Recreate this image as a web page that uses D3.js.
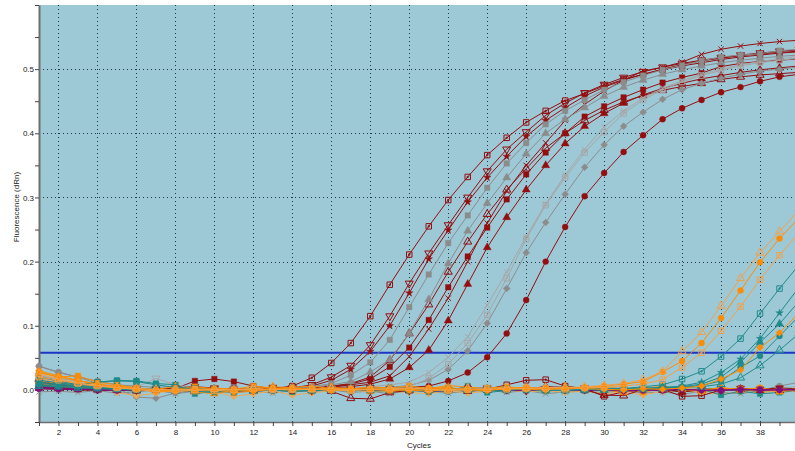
<!DOCTYPE html>
<html>
<head>
<meta charset="utf-8">
<script src="https://cdn.jsdelivr.net/npm/d3@7"></script>
<style>
  body { margin: 0; background: #fff; }
  svg { display: block; }
  text { font-family: "Liberation Sans", Arial, sans-serif; }
</style>
</head>
<body>
<svg id="chart" width="795" height="451"></svg>
<script>
// ---- data (fluorescence readings in milli-dRn, one value per cycle) ----
const cycles = [1,2,3,4,5,6,7,8,9,10,11,12,13,14,15,16,17,18,19,20,21,22,23,24,25,26,27,28,29,30,31,32,33,34,35,36,37,38,39,40];
const yTickValues = [0, 0.1, 0.2, 0.3, 0.4, 0.5];
const xTickLabels = [2,4,6,8,10,12,14,16,18,20,22,24,26,28,30,32,34,36,38];
const thresholdDRn = 0.058;

// early-amplifying wells
const wellA1 = [14,9,6,4,2,1,0,1,2,1,1,0,2,6,19,42,73,115,164,211,255,296,332,366,393,417,435,451,462,474,484,492,499,505,510,515,519,522,525,527];
const wellA2 = [10,7,5,3,2,2,1,0,1,2,1,0,1,3,8,20,38,70,115,166,213,257,300,341,375,402,428,447,463,476,487,496,503,509,514,518,522,525,528,530];
const wellA3 = [8,6,4,3,1,0,1,2,0,1,2,1,0,2,6,15,32,60,100,151,204,249,293,331,364,395,420,440,458,472,483,492,500,507,513,517,521,524,526,528];
const wellA4 = [22,15,10,6,4,2,1,0,2,1,0,1,2,3,5,10,23,43,78,129,180,229,272,315,353,385,414,435,452,468,480,490,499,506,513,519,522,524,529,531];
const wellA5 = [18,12,8,5,3,1,0,1,2,0,1,2,1,2,4,8,13,28,47,88,141,197,248,291,331,368,400,422,440,458,472,483,492,499,505,510,514,517,520,522];
const wellA6 = [5,3,2,1,0,-1,1,0,-2,1,0,-1,2,1,3,6,10,20,46,88,133,184,231,274,312,345,377,400,420,436,449,459,467,473,478,484,488,491,493,495];
const wellA7 = [6,4,3,2,1,0,-1,1,0,2,1,0,1,0,2,4,8,12,22,52,95,143,200,260,310,350,385,420,445,466,483,497,503,511,523,531,536,540,543,545];
const wellA8 = [4,3,2,1,0,1,0,2,14,17,13,6,2,1,2,5,9,17,36,66,109,160,208,253,297,336,370,400,426,442,456,468,479,487,494,504,509,512,514,516];
const wellA9 = [3,2,1,0,-1,0,1,-1,0,1,0,-1,0,1,2,3,5,9,17,35,62,108,165,222,269,312,350,384,411,431,447,460,470,478,485,490,495,499,502,505];
const wellA10 = [16,11,7,5,3,1,0,-1,1,0,-2,0,1,0,1,2,3,5,8,12,27,51,83,132,184,239,290,335,375,410,435,455,470,482,492,500,507,512,516,520];
const wellA11 = [20,14,9,6,4,2,1,0,1,-1,0,1,0,-1,1,0,2,1,3,5,18,40,73,117,174,235,288,331,370,402,431,452,468,480,490,498,505,510,514,517];
const wellA12 = [37,27,20,10,2,-11,-13,-5,0,2,1,0,-1,1,0,1,2,2,4,7,15,32,61,104,158,214,261,305,347,382,411,433,453,468,478,486,492,497,500,503];
const wellA13 = [2,1,0,-1,0,1,0,-1,0,1,0,1,0,-1,0,1,0,2,3,4,6,14,27,51,88,140,200,254,302,338,371,397,422,439,452,464,472,481,488,492];

// late-amplifying wells
const wellB1 = [25,17,11,7,4,2,1,0,-1,1,0,2,1,0,1,2,0,1,2,3,1,0,2,1,3,2,4,3,5,7,10,16,29,60,90,131,174,214,247,280];
const wellB2 = [28,20,14,9,5,2,0,-2,-1,1,0,-1,2,3,1,0,2,1,-1,0,3,2,1,0,2,4,3,2,4,6,9,13,28,45,73,112,155,199,236,268];
const wellB3 = [20,15,10,6,3,1,-2,0,1,-1,0,1,0,2,1,0,-1,1,0,2,1,-1,0,2,1,3,2,1,3,4,6,9,16,35,58,92,130,172,210,245];
const wellB4 = [30,22,15,9,4,1,-3,0,2,0,-4,-2,1,0,2,-1,0,2,1,0,-2,1,0,-1,2,1,0,3,2,1,0,2,1,3,6,17,31,66,89,120];
const wellC1 = [15,11,8,12,14,13,8,4,2,0,-1,1,0,2,1,0,-1,2,1,0,1,-1,0,1,2,0,1,2,1,3,2,5,8,17,29,52,80,119,158,195];
const wellC2 = [12,9,7,5,3,2,1,0,-2,-4,-1,0,1,0,-1,1,0,2,0,1,-1,0,1,2,0,1,0,2,1,0,2,3,4,6,12,27,48,80,120,160];
const wellC3 = [10,8,6,4,2,1,0,-1,0,1,0,-2,0,1,0,-1,1,0,2,1,0,1,-1,0,1,2,0,1,0,2,1,2,3,5,9,20,43,74,103,138];
const wellC4 = [8,6,5,3,1,0,-1,0,-2,-1,0,1,-1,0,1,0,-1,1,0,-1,0,2,1,-1,0,1,-1,0,1,0,2,1,3,4,7,14,35,53,84,115];
const wellC5 = [6,5,3,2,1,0,1,-1,0,1,-1,0,1,0,-1,0,1,0,-1,1,0,-1,0,1,0,1,0,-1,1,0,1,2,2,4,5,9,19,38,62,88];

// non-amplifying wells
const wellN1 = [2,1,1,0,-1,0,0,-1,0,1,0,-1,0,1,0,-1,0,1,1,0,-1,0,1,0,0,-1,0,1,0,0,-1,-1,0,1,0,-1,0,1,0,0];
const wellN2 = [4,3,2,1,0,0,-1,0,1,0,-1,-2,0,1,0,-1,1,0,-1,0,-2,-1,0,1,-1,0,2,0,-1,0,-2,0,-1,1,-1,0,1,-1,0,1];
const wellN3 = [12,8,5,3,2,0,1,3,5,3,-2,0,4,2,-1,0,1,3,2,-1,1,0,2,3,1,-1,2,1,3,0,-1,0,2,-3,1,0,2,1,3,2];
const wellN4 = [6,4,2,1,0,-1,1,0,-2,1,0,-1,0,2,1,-2,-13,-14,-4,-1,0,1,-2,0,1,2,5,4,0,-8,-9,1,0,-3,0,2,1,0,-1,1];
const wellN5 = [9,6,4,2,1,0,-1,1,0,-1,2,0,1,-1,0,2,1,0,-1,1,2,0,3,1,8,15,16,6,2,-10,-3,0,1,-10,-9,0,2,1,0,2];
const wellN6 = [27,20,22,12,8,3,-2,2,5,2,1,6,3,0,-1,2,1,0,3,6,2,4,0,3,5,2,-1,1,0,4,2,-3,1,2,-2,0,1,3,-1,2];
const wellN7 = [18,12,8,5,-4,-9,-5,0,-2,-3,-10,-6,-2,-8,-5,-1,0,-3,-2,-4,-6,-1,-5,-2,0,-3,-1,-4,-2,-6,-3,-8,-2,-1,-4,-7,-2,-5,-1,-3];
const wellN8 = [10,6,3,5,4,2,-3,-1,0,3,1,2,0,4,6,2,1,5,3,0,2,7,4,1,3,2,-1,0,2,-2,1,0,-1,2,0,3,1,-2,0,1];
const wellN9 = [20,14,8,12,15,14,10,8,-6,-2,-4,1,0,-3,-1,0,2,-2,-1,0,-3,-2,6,-4,-1,0,-2,1,-1,0,2,-1,0,-2,1,-8,-2,-6,-4,0];
const wellN10 = [5,3,4,2,0,-2,1,-1,0,2,-1,0,1,-2,0,1,-1,0,2,0,-1,1,0,-2,1,0,2,-1,0,1,-1,2,0,-1,0,1,-2,0,1,0];
const wellN11 = [37,28,20,14,8,6,4,5,3,2,1,0,2,1,0,-1,1,0,-2,1,0,2,-1,0,1,-2,0,1,2,-1,0,1,-1,0,2,1,0,-1,6,12];
const wellN12 = [22,18,14,10,6,4,18,8,3,1,2,0,-1,1,0,2,-1,0,1,-2,0,1,-1,2,0,-1,1,0,2,-1,1,0,-2,1,0,-1,2,0,1,0];
const wellN13 = [14,10,7,4,6,3,1,5,-3,-6,-1,2,5,3,0,4,2,-2,1,3,0,-2,4,2,-1,3,1,5,2,0,-4,2,6,1,-2,4,0,2,-3,1];
const wellN14 = [-3,-2,-4,-1,-5,-3,0,-6,-2,-1,-4,-2,-5,-1,-3,0,-4,-2,-6,-1,-3,-5,-2,0,-4,-1,-6,-3,-2,-4,-1,-5,-3,-7,-2,-4,-6,-1,-3,-2];
const wellN15 = [8,5,3,1,2,-1,0,3,1,-2,2,1,-1,3,0,2,-2,1,4,2,-1,0,3,-2,1,2,0,-1,3,1,-2,0,2,-1,1,3,0,-2,1,0];

// ---- appearance of each well's trace ----
const RED = "#930e0e", GRAY = "#8c8c8c", LGRAY = "#a6a6a6", ORANGE = "#ff8c00",
      LORANGE = "#f2a04a", TEAL = "#1f8a8a", PURPLE = "#7f0f7f", GREEN = "#2e8b57", SANDY = "#eeaa55";

const traces = [
  // early wells
  { v: wellA13, color: RED,     shape: "circle",   open: false },
  { v: wellA9,  color: RED,     shape: "triUp",    open: false },
  { v: wellA8,  color: RED,     shape: "square",   open: false },
  { v: wellA6,  color: RED,     shape: "triUp",    open: true },
  { v: wellA7,  color: RED,     shape: "cross",    open: true },
  { v: wellA3,  color: RED,     shape: "star",     open: false },
  { v: wellA2,  color: RED,     shape: "triDown",  open: true },
  { v: wellA1,  color: RED,     shape: "squareDot",open: true },
  { v: wellA12, color: GRAY,    shape: "diamond",  open: false },
  { v: wellA11, color: LGRAY,   shape: "squareDot",open: true },
  { v: wellA10, color: LGRAY,   shape: "cross",    open: true },
  { v: wellA5,  color: GRAY,    shape: "triUp",    open: false },
  { v: wellA4,  color: GRAY,    shape: "square",   open: false },
  // baseline wells
  { v: wellN12, color: LGRAY,   shape: "triDown",  open: true },
  { v: wellN11, color: GRAY,    shape: "circle",   open: false },
  { v: wellN14, color: GRAY,    shape: "cross",    open: true },
  { v: wellN7,  color: SANDY,   shape: "diamond",  open: false },
  { v: wellN9,  color: TEAL,    shape: "square",   open: false },
  { v: wellN15, color: TEAL,    shape: "circle",   open: false },
  { v: wellN10, color: GREEN,   shape: "diamond",  open: false },
  { v: wellN3,  color: RED,     shape: "triDown",  open: false },
  { v: wellN4,  color: RED,     shape: "triUp",    open: true },
  { v: wellN5,  color: RED,     shape: "squareDot",open: true },
  { v: wellN6,  color: ORANGE,  shape: "square",   open: false },
  { v: wellN13, color: ORANGE,  shape: "triUp",    open: false },
  { v: wellN8,  color: ORANGE,  shape: "plus",     open: false },
  { v: wellN2,  color: PURPLE,  shape: "diamond",  open: false },
  { v: wellN1,  color: PURPLE,  shape: "circle",   open: false },
  // late wells
  { v: wellC5,  color: TEAL,    shape: "triUp",    open: true },
  { v: wellC4,  color: TEAL,    shape: "circle",   open: false },
  { v: wellC3,  color: TEAL,    shape: "triUp",    open: false },
  { v: wellC2,  color: TEAL,    shape: "star",     open: false },
  { v: wellC1,  color: TEAL,    shape: "squareDot",open: true },
  { v: wellB4,  color: ORANGE,  shape: "diamond",  open: false },
  { v: wellB3,  color: LORANGE, shape: "squareDot",open: true },
  { v: wellB2,  color: ORANGE,  shape: "circle",   open: false },
  { v: wellB1,  color: LORANGE, shape: "triUp",    open: true }
];

// ---- layout ----
const svg = d3.select("#chart");
const W = 795, H = 451;
const plotLeft = 39, plotTop = 5, plotBottom = 422, plotRight = 799;

const x = d3.scaleLinear().domain([1, 40]).range([plotLeft, plotRight]);
const y = d3.scaleLinear().domain([-0.05, 0.6]).range([plotBottom, plotTop]);
const toDRn = m => m / 1000;

svg.append("rect").attr("width", W).attr("height", H).attr("fill", "#fff");
svg.append("rect")
  .attr("x", plotLeft).attr("y", plotTop)
  .attr("width", W - plotLeft).attr("height", plotBottom - plotTop)
  .attr("fill", "#9dc9d7");

// dotted grid
const grid = svg.append("g").attr("stroke", "#24384a").attr("stroke-width", 1)
  .attr("stroke-dasharray", "1,3").attr("shape-rendering", "crispEdges");
grid.selectAll("line.v").data(xTickLabels.concat([40])).join("line")
  .attr("x1", d => Math.round(x(d)) + 0.5).attr("x2", d => Math.round(x(d)) + 0.5)
  .attr("y1", plotTop).attr("y2", plotBottom);
grid.selectAll("line.h").data(yTickValues).join("line")
  .attr("x1", plotLeft).attr("x2", W)
  .attr("y1", d => Math.round(y(d)) + 0.5).attr("y2", d => Math.round(y(d)) + 0.5);

// threshold
svg.append("line")
  .attr("x1", plotLeft).attr("x2", W)
  .attr("y1", y(thresholdDRn)).attr("y2", y(thresholdDRn))
  .attr("stroke", "#1b36c6").attr("stroke-width", 2);

// axes
const yMinor = [-0.05,0,0.05,0.1,0.15,0.2,0.25,0.3,0.35,0.4,0.45,0.5,0.55,0.6];
const yAxis = svg.append("g").attr("transform", `translate(${plotLeft},0)`)
  .call(d3.axisLeft(y).tickValues(yMinor).tickSize(4).tickSizeOuter(0)
    .tickFormat(d => yTickValues.some(t => Math.abs(t - d) < 1e-9) ? d3.format(".1f")(d) : ""));
yAxis.select(".domain").attr("stroke", "#6e6e6e").attr("stroke-width", 2);
yAxis.selectAll(".tick line").attr("stroke", "#444");
yAxis.selectAll(".tick text").attr("fill", "#222").attr("font-size", 8).attr("x", -5);

const xAxis = svg.append("g").attr("transform", `translate(0,${plotBottom})`)
  .call(d3.axisBottom(x).tickValues(cycles).tickSize(4).tickSizeOuter(0)
    .tickFormat(d => xTickLabels.includes(d) ? d : ""));
xAxis.select(".domain").attr("stroke", "#6e6e6e").attr("stroke-width", 1.5);
xAxis.selectAll(".tick line").attr("stroke", "#444");
xAxis.selectAll(".tick text").attr("fill", "#222").attr("font-size", 8);

svg.append("text").attr("x", (plotLeft + plotRight) / 2).attr("y", 448)
  .attr("text-anchor", "middle").attr("font-size", 8).attr("fill", "#222").text("Cycles");
svg.append("text").attr("transform", "translate(18.5,207) rotate(-90)")
  .attr("text-anchor", "middle").attr("font-size", 8).attr("fill", "#222").text("Fluorescence (dRn)");

// markers
const markerPath = {
  square: d3.symbol(d3.symbolSquare, 30)(),
  squareDot: d3.symbol(d3.symbolSquare, 30)() + "M-0.6,-0.6h1.2v1.2h-1.2Z",
  circle: d3.symbol(d3.symbolCircle, 28)(),
  triUp: d3.symbol(d3.symbolTriangle, 28)(),
  triDown: d3.symbol(d3.symbolTriangle, 28)(),
  diamond: d3.symbol(d3.symbolSquare, 24)(),
  star: d3.symbol(d3.symbolStar, 18)(),
  cross: "M-2.7,-2.7L2.7,2.7M-2.7,2.7L2.7,-2.7",
  plus: "M-3,0H3M0,-3V3"
};
const markerRotate = { triDown: 180, diamond: 45 };

const line = d3.line().x((d, i) => x(cycles[i])).y(d => y(toDRn(d)));
const plot = svg.append("g");
traces.forEach(t => {
  const g = plot.append("g");
  g.append("path").attr("d", line(t.v)).attr("fill", "none")
    .attr("stroke", t.color).attr("stroke-width", 1);
  const strokeOnly = t.open || t.shape === "cross" || t.shape === "plus";
  g.selectAll("path.m").data(t.v).join("path")
    .attr("transform", (d, i) => `translate(${x(cycles[i])},${y(toDRn(d))}) rotate(${markerRotate[t.shape] || 0})`)
    .attr("d", markerPath[t.shape])
    .attr("fill", strokeOnly ? "none" : t.color)
    .attr("stroke", t.color)
    .attr("stroke-width", strokeOnly ? 1 : 0.4);
});
</script>
</body>
</html>
